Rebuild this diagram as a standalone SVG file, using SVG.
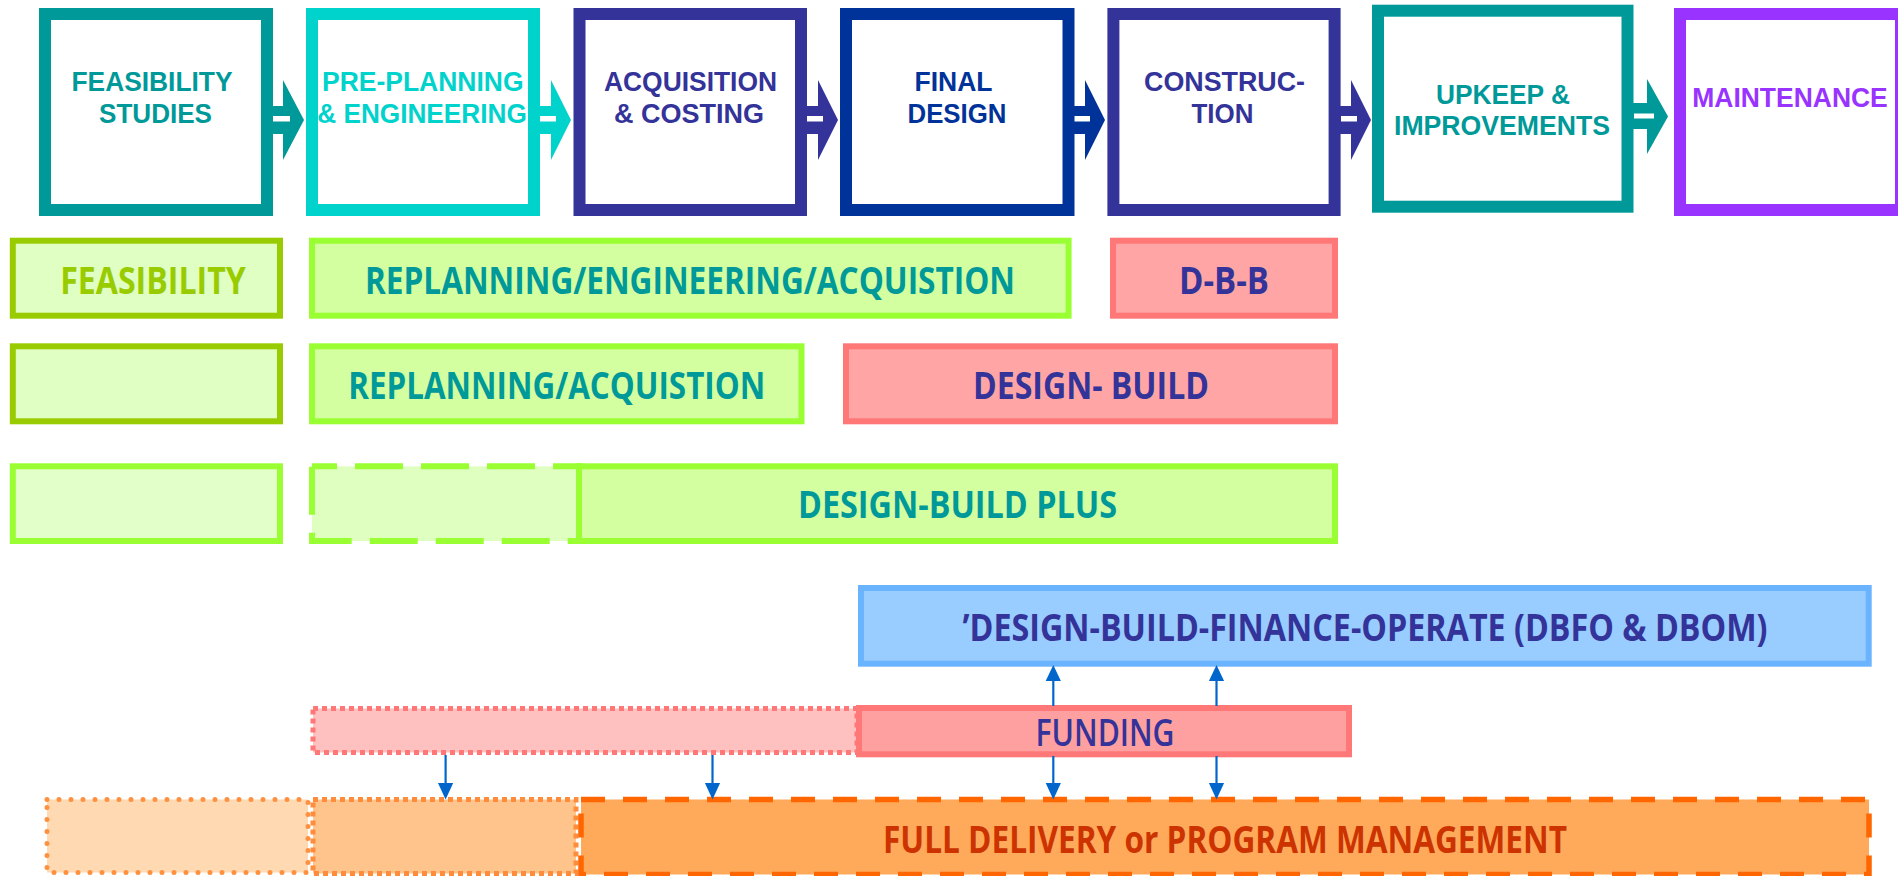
<svg xmlns="http://www.w3.org/2000/svg" width="1898" height="876" viewBox="0 0 1898 876">
<style>
.top{font-family:"Liberation Sans",Arial,sans-serif;font-weight:700;font-size:27px;text-anchor:middle}
.lbl{font-family:"Open Sans","Liberation Sans",sans-serif;font-weight:700;font-size:37px;text-anchor:middle}
.tb{fill:#fff;stroke-width:12}
.bar{stroke-width:6}
.conn line{stroke:#0066CC;stroke-width:2.2}
.conn path{fill:#0066CC}
</style>
<rect width="1898" height="876" fill="#fff"/>

<!-- top phase arrows -->
<g id="phase-arrows">
  <g fill="#009999"><rect x="273" y="106" width="18" height="28"/><polygon points="283,80 304,120 283,160"/></g>
  <g fill="#00D2CC"><rect x="540" y="106" width="17" height="28"/><polygon points="551,80 571,120 551,160"/></g>
  <g fill="#333399"><rect x="807" y="106" width="17" height="28"/><polygon points="818,80 838,120 818,160"/></g>
  <g fill="#003399"><rect x="1074" y="106" width="17" height="28"/><polygon points="1085,80 1105,120 1085,160"/></g>
  <g fill="#333399"><rect x="1340" y="106" width="22" height="28"/><polygon points="1351,80 1371,120 1351,160"/></g>
  <g fill="#009999"><rect x="1633" y="103" width="21" height="26"/><polygon points="1647,79 1668,116.5 1647,154"/></g>
  <g fill="#fff">
    <rect x="273" y="116" width="17" height="5.5"/>
    <rect x="540" y="116" width="16" height="5.5"/>
    <rect x="807" y="116" width="16" height="5.5"/>
    <rect x="1074" y="116" width="16" height="5.5"/>
    <rect x="1341" y="116" width="16" height="5.5"/>
    <rect x="1634" y="113.5" width="20" height="5"/>
  </g>
</g>

<g id="feasibility-studies">
  <rect class="tb" x="45" y="14" width="222" height="196" stroke="#009999"/>
  <text class="top" fill="#009999" x="152" y="90.7" textLength="161" lengthAdjust="spacingAndGlyphs">FEASIBILITY</text>
  <text class="top" fill="#009999" x="155.5" y="122.7" textLength="113" lengthAdjust="spacingAndGlyphs">STUDIES</text>
</g>
<g id="pre-planning">
  <rect class="tb" x="312" y="14" width="222" height="196" stroke="#00D2CC"/>
  <text class="top" fill="#00D2CC" x="422.8" y="90.7" textLength="201.5" lengthAdjust="spacingAndGlyphs">PRE-PLANNING</text>
  <text class="top" fill="#00D2CC" x="422" y="122.7" textLength="209.5" lengthAdjust="spacingAndGlyphs">&amp; ENGINEERING</text>
</g>
<g id="acquisition">
  <rect class="tb" x="579.5" y="14" width="221.5" height="196" stroke="#333399"/>
  <text class="top" fill="#333399" x="690.5" y="90.7" textLength="173" lengthAdjust="spacingAndGlyphs">ACQUISITION</text>
  <text class="top" fill="#333399" x="689" y="122.7" textLength="150" lengthAdjust="spacingAndGlyphs">&amp; COSTING</text>
</g>
<g id="final-design">
  <rect class="tb" x="846" y="14" width="222.5" height="196" stroke="#003399"/>
  <text class="top" fill="#003399" x="953.5" y="90.7" textLength="78" lengthAdjust="spacingAndGlyphs">FINAL</text>
  <text class="top" fill="#003399" x="957" y="122.7" textLength="99" lengthAdjust="spacingAndGlyphs">DESIGN</text>
</g>
<g id="construction">
  <rect class="tb" x="1113.4" y="14" width="221.2" height="196" stroke="#333399"/>
  <text class="top" fill="#333399" x="1224.5" y="90.7" textLength="161" lengthAdjust="spacingAndGlyphs">CONSTRUC-</text>
  <text class="top" fill="#333399" x="1222.5" y="122.7" textLength="62" lengthAdjust="spacingAndGlyphs">TION</text>
</g>
<g id="upkeep">
  <rect class="tb" x="1378" y="10.7" width="249.5" height="196" stroke="#009999"/>
  <text class="top" fill="#009999" x="1503" y="104" textLength="134" lengthAdjust="spacingAndGlyphs">UPKEEP &amp;</text>
  <text class="top" fill="#009999" x="1502" y="135" textLength="216" lengthAdjust="spacingAndGlyphs">IMPROVEMENTS</text>
</g>
<g id="maintenance">
  <rect class="tb" x="1680" y="14" width="221" height="196" stroke="#9933FF"/>
  <text class="top" fill="#9933FF" x="1790" y="107" textLength="195.5" lengthAdjust="spacingAndGlyphs">MAINTENANCE</text>
</g>

<!-- row 2 -->
<g id="feasibility">
  <rect class="bar" x="12.8" y="240.7" width="267.2" height="75" fill="#E0FFC2" stroke="#99CC00"/>
  <text class="lbl" fill="#99CC00" x="153" y="294" textLength="185.5" lengthAdjust="spacingAndGlyphs">FEASIBILITY</text>
</g>
<g id="replanning-engineering-acquisition">
  <rect class="bar" x="312" y="240.7" width="756.6" height="75" fill="#D4FFA0" stroke="#99FF33"/>
  <text class="lbl" fill="#009999" x="690" y="294" textLength="650" lengthAdjust="spacingAndGlyphs">REPLANNING/ENGINEERING/ACQUISTION</text>
</g>
<g id="dbb">
  <rect class="bar" x="1113" y="240.7" width="222" height="75" fill="#FFA5A5" stroke="#FF7777"/>
  <text class="lbl" fill="#333399" x="1224" y="294" textLength="90" lengthAdjust="spacingAndGlyphs">D-B-B</text>
</g>

<!-- row 3 -->
<g id="feasibility-2">
  <rect class="bar" x="12.8" y="346.3" width="267.2" height="75" fill="#E0FFC2" stroke="#99CC00"/>
</g>
<g id="replanning-acquisition">
  <rect class="bar" x="312" y="346.3" width="489.5" height="75" fill="#D4FFA0" stroke="#99FF33"/>
  <text class="lbl" fill="#009999" x="556.7" y="399" textLength="417" lengthAdjust="spacingAndGlyphs">REPLANNING/ACQUISTION</text>
</g>
<g id="design-build">
  <rect class="bar" x="846" y="346.3" width="489" height="75" fill="#FFA5A5" stroke="#FF7777"/>
  <text class="lbl" fill="#333399" x="1091" y="399" textLength="236" lengthAdjust="spacingAndGlyphs">DESIGN- BUILD</text>
</g>

<!-- row 4 -->
<g id="feasibility-3">
  <rect class="bar" x="12.8" y="466.3" width="267.2" height="74.7" fill="#E2FFCA" stroke="#99FF33"/>
</g>
<g id="replanning-optional">
  <rect class="bar" x="312" y="466.3" width="268" height="74.7" fill="#DFFFC0" stroke="#99FF33" stroke-dasharray="48 18" stroke-dashoffset="23"/>
</g>
<g id="design-build-plus">
  <rect class="bar" x="579" y="466.3" width="756" height="74.7" fill="#D4FFA0" stroke="#99FF33"/>
  <text class="lbl" fill="#009999" x="957.5" y="517.7" textLength="319" lengthAdjust="spacingAndGlyphs">DESIGN-BUILD PLUS</text>
</g>

<!-- DBFO -->
<g id="dbfo">
  <rect class="bar" x="861" y="588" width="1007.7" height="75.7" fill="#99CCFF" stroke="#6AB4FF"/>
  <text class="lbl" fill="#333399" x="1365" y="640.7" textLength="805" lengthAdjust="spacingAndGlyphs">’DESIGN-BUILD-FINANCE-OPERATE (DBFO &amp; DBOM)</text>
</g>

<!-- funding -->
<g id="funding-early">
  <rect x="313" y="708.5" width="544" height="44" fill="#FFC0C0" stroke="#FF7777" stroke-width="5" stroke-dasharray="5 4"/>
</g>
<g id="funding">
  <rect class="bar" x="859" y="708" width="490" height="46.3" fill="#FFA0A0" stroke="#FF7777"/>
  <text class="lbl" fill="#333399" style="font-weight:600" x="1105" y="746" textLength="139" lengthAdjust="spacingAndGlyphs">FUNDING</text>
</g>

<!-- full delivery -->
<g id="delivery-feasibility">
  <rect x="47" y="799.5" width="261" height="73" fill="#FFD9B2" stroke="#FF9040" stroke-width="5" stroke-dasharray="0 12" stroke-linecap="round"/>
</g>
<g id="delivery-planning">
  <rect x="313" y="799.5" width="263" height="74" fill="#FFC48C" stroke="#FF8C3A" stroke-width="5" stroke-dasharray="5 4"/>
</g>
<g id="full-delivery">
  <rect x="581" y="799.5" width="1288" height="75" fill="#FFAA5A" stroke="#FF6600" stroke-width="5.5" stroke-dasharray="24 18"/>
  <text class="lbl" fill="#CC3300" x="1225" y="852.7" textLength="684" lengthAdjust="spacingAndGlyphs">FULL DELIVERY or PROGRAM MANAGEMENT</text>
</g>

<!-- connectors -->
<g id="connectors" class="conn">
  <line x1="445.6" y1="755" x2="445.6" y2="786"/><path d="M438,783 L453.2,783 L445.6,799.5 Z"/>
  <line x1="712.5" y1="755" x2="712.5" y2="786"/><path d="M704.9,783 L720.1,783 L712.5,799.5 Z"/>
  <line x1="1053.3" y1="756" x2="1053.3" y2="786"/><path d="M1045.7,783 L1060.9,783 L1053.3,799.5 Z"/>
  <line x1="1216.5" y1="756" x2="1216.5" y2="786"/><path d="M1208.9,783 L1224.1,783 L1216.5,799.5 Z"/>
  <line x1="1053.3" y1="706" x2="1053.3" y2="678"/><path d="M1045.7,681 L1060.9,681 L1053.3,665 Z"/>
  <line x1="1216.5" y1="706" x2="1216.5" y2="678"/><path d="M1208.9,681 L1224.1,681 L1216.5,665 Z"/>
</g>
</svg>
